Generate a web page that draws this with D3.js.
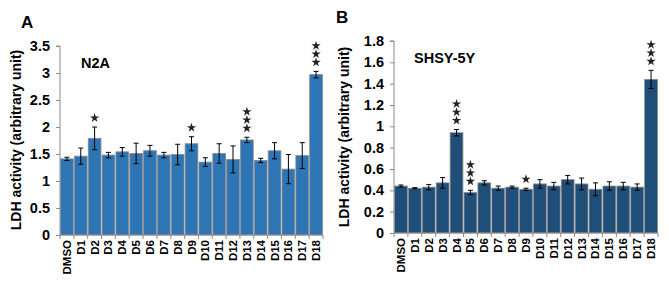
<!DOCTYPE html>
<html><head><meta charset="utf-8">
<script src="https://cdn.jsdelivr.net/npm/d3@7"></script>
<style>body{margin:0;background:#fff}svg{display:block;font-family:"Liberation Sans",Arial,sans-serif}</style>
</head><body><svg id="c" width="669" height="281"></svg>
<script>
const categories = ["DMSO","D1","D2","D3","D4","D5","D6","D7","D8","D9","D10","D11","D12","D13","D14","D15","D16","D17","D18"];
const n2aValues = [1.41,1.46,1.79,1.48,1.54,1.51,1.56,1.48,1.49,1.69,1.35,1.51,1.40,1.76,1.38,1.56,1.22,1.47,2.97];
const n2aErrors = [0.03,0.15,0.21,0.05,0.08,0.19,0.10,0.05,0.19,0.13,0.08,0.18,0.25,0.05,0.04,0.15,0.27,0.24,0.06];
const n2aStars  = [0,0,1,0,0,0,0,0,0,1,0,0,0,3,0,0,0,0,3];
const n2aTicks  = [0,0.5,1,1.5,2,2.5,3,3.5];
const shsyValues = [0.44,0.42,0.43,0.47,0.94,0.38,0.47,0.42,0.43,0.41,0.46,0.44,0.50,0.46,0.41,0.44,0.44,0.43,1.44];
const shsyErrors = [0.01,0.005,0.025,0.05,0.03,0.02,0.02,0.02,0.01,0.01,0.04,0.035,0.04,0.055,0.06,0.04,0.035,0.03,0.085];
const shsyStars  = [0,0,0,0,3,3,0,0,0,1,0,0,0,0,0,0,0,0,3];
const shsyTicks  = [0,0.2,0.4,0.6,0.8,1,1.2,1.4,1.6,1.8];

const svg = d3.select("#c");

function panel(o){
  const g = svg.append("g");
  const x = d3.scaleBand().domain(categories).range([o.x0,o.x1]).paddingInner(0.08).paddingOuter(0.04);
  const y = d3.scaleLinear().domain([0,o.ymax]).range([o.y0,o.y1]);
  g.selectAll("rect.bar").data(categories).join("rect")
    .attr("x",d=>x(d)).attr("width",x.bandwidth())
    .attr("y",(d,i)=>y(o.values[i])).attr("height",(d,i)=>y(0)-y(o.values[i]))
    .attr("fill",o.color).attr("stroke","#8a8a8a").attr("stroke-width",0.8);
  const eb = g.selectAll("g.eb").data(categories).join("g");
  eb.append("line").attr("x1",d=>x(d)+x.bandwidth()/2).attr("x2",d=>x(d)+x.bandwidth()/2)
    .attr("y1",(d,i)=>y(o.values[i]+o.errors[i])).attr("y2",(d,i)=>y(o.values[i]-o.errors[i]))
    .attr("stroke","#000").attr("stroke-width",1);
  [1,-1].forEach(s=>{
    eb.append("line").attr("x1",d=>x(d)+x.bandwidth()/2-2.5).attr("x2",d=>x(d)+x.bandwidth()/2+2.5)
      .attr("y1",(d,i)=>y(o.values[i]+s*o.errors[i])).attr("y2",(d,i)=>y(o.values[i]+s*o.errors[i]))
      .attr("stroke","#000").attr("stroke-width",1);
  });
  const star = d3.symbol().type(d3.symbolStar).size(27);
  categories.forEach((c,i)=>{
    for(let k=0;k<o.stars[i];k++){
      g.append("path").attr("d",star)
        .attr("transform",`translate(${x(c)+x.bandwidth()/2},${y(o.values[i]+o.errors[i])-9-k*8.3})`)
        .attr("fill","#222");
    }
  });
  const ya = g.append("g").attr("transform",`translate(${o.x0},0)`)
    .call(d3.axisLeft(y).tickValues(o.ticks).tickSize(4).tickPadding(6).tickFormat(d=>String(d)));
  ya.select(".domain").attr("stroke","#8a8a8a").attr("d",`M-4,${y(o.ymax)}H0V${y(0)}`);
  ya.selectAll(".tick line").attr("stroke","#8a8a8a");
  ya.selectAll(".tick text").attr("font-size",14.5).attr("font-weight","bold").attr("fill","#000")
    .attr("font-family","Liberation Sans, Arial, sans-serif");
  const xa = g.append("g").attr("transform",`translate(0,${o.y0})`);
  xa.append("line").attr("x1",o.x0).attr("x2",o.x1).attr("stroke","#8a8a8a");
  const step = x.step();
  const edges = categories.map(c=>x(c)-step*x.paddingInner()/2).concat([o.x1]);
  xa.selectAll("line.t").data(edges).join("line").attr("class","t")
    .attr("x1",d=>d).attr("x2",d=>d).attr("y1",0).attr("y2",4).attr("stroke","#8a8a8a");
  xa.selectAll("text").data(categories).join("text")
    .attr("transform",d=>`translate(${x(d)+x.bandwidth()/2+4},5) rotate(-90)`)
    .attr("text-anchor","end").attr("font-size",11.5).attr("font-weight","bold").text(d=>d);
  g.append("text").attr("transform",`translate(${o.labelX},${o.labelY}) rotate(-90)`)
    .attr("text-anchor","middle").attr("font-size",14).attr("font-weight","bold").text("LDH activity (arbitrary unit)");
  g.append("text").attr("x",o.letterX).attr("y",o.letterY).attr("font-size",17).attr("font-weight","bold").text(o.letter);
  g.append("text").attr("x",o.titleX).attr("y",o.titleY).attr("font-size",14.5).attr("font-weight","bold").text(o.title);
}

panel({x0:60,x1:323,y0:235,y1:46,ymax:3.5,values:n2aValues,errors:n2aErrors,stars:n2aStars,ticks:n2aTicks,
  color:"#2E75B6",labelX:21,labelY:140,letter:"A",letterX:21,letterY:28,title:"N2A",titleX:81,titleY:68});
panel({x0:394,x1:658,y0:233,y1:41,ymax:1.8,values:shsyValues,errors:shsyErrors,stars:shsyStars,ticks:shsyTicks,
  color:"#1F4E79",labelX:349,labelY:137,letter:"B",letterX:336,letterY:23,title:"SHSY-5Y",titleX:414,titleY:63});
</script></body></html>
